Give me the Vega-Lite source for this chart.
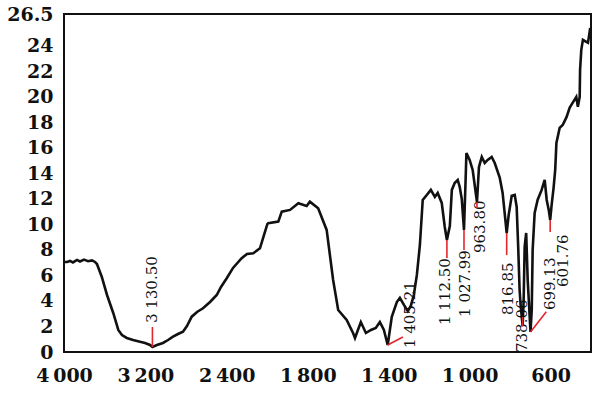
{
  "$schema": "https://vega.github.io/schema/vega-lite/v6.json",
  "width": 527,
  "height": 338,
  "autosize": "none",
  "padding": {"left": 64, "top": 14, "right": 9, "bottom": 42},
  "background": "white",
  "config": {
    "view": {"stroke": "#111111", "strokeWidth": 2},
    "axis": {
      "grid": false,
      "domain": false,
      "ticks": false,
      "labelFont": "DejaVu Serif",
      "labelFontSize": 19,
      "labelFontWeight": "bold",
      "labelColor": "#111111",
      "title": null
    }
  },
  "datasets": {
    "spectrum": [
      {"wn": 4000, "v": 7.06}, {"wn": 3970, "v": 7.06}, {"wn": 3941, "v": 7.14}, {"wn": 3912, "v": 7.02},
      {"wn": 3872, "v": 7.22}, {"wn": 3843, "v": 7.1}, {"wn": 3803, "v": 7.24}, {"wn": 3764, "v": 7.12},
      {"wn": 3725, "v": 7.18}, {"wn": 3695, "v": 7.06}, {"wn": 3676, "v": 6.9}, {"wn": 3629, "v": 5.9},
      {"wn": 3577, "v": 4.47}, {"wn": 3515, "v": 3.04}, {"wn": 3466, "v": 1.73}, {"wn": 3430, "v": 1.33},
      {"wn": 3383, "v": 1.1}, {"wn": 3321, "v": 0.94}, {"wn": 3253, "v": 0.81}, {"wn": 3203, "v": 0.71},
      {"wn": 3154, "v": 0.55}, {"wn": 3130.5, "v": 0.39}, {"wn": 3086, "v": 0.55}, {"wn": 3027, "v": 0.71},
      {"wn": 2977, "v": 0.94}, {"wn": 2928, "v": 1.2}, {"wn": 2879, "v": 1.41}, {"wn": 2830, "v": 1.59},
      {"wn": 2791, "v": 2.04}, {"wn": 2744, "v": 2.77}, {"wn": 2692, "v": 3.14}, {"wn": 2633, "v": 3.43},
      {"wn": 2564, "v": 3.92}, {"wn": 2498, "v": 4.47}, {"wn": 2456, "v": 5.1}, {"wn": 2400, "v": 5.78},
      {"wn": 2338, "v": 6.59}, {"wn": 2253, "v": 7.35}, {"wn": 2201, "v": 7.69}, {"wn": 2139, "v": 7.74},
      {"wn": 2073, "v": 8.13}, {"wn": 2033, "v": 9.18}, {"wn": 2000, "v": 10.04}, {"wn": 1996, "v": 10.09},
      {"wn": 1946, "v": 10.22}, {"wn": 1929, "v": 11.0}, {"wn": 1888, "v": 11.14}, {"wn": 1847, "v": 11.66},
      {"wn": 1806, "v": 11.45}, {"wn": 1790, "v": 11.79}, {"wn": 1749, "v": 11.27}, {"wn": 1707, "v": 9.57},
      {"wn": 1675, "v": 5.65}, {"wn": 1650, "v": 3.29}, {"wn": 1608, "v": 2.51}, {"wn": 1576, "v": 1.47},
      {"wn": 1567, "v": 1.1}, {"wn": 1538, "v": 2.35}, {"wn": 1513, "v": 1.49}, {"wn": 1488, "v": 1.73},
      {"wn": 1464, "v": 1.88}, {"wn": 1444, "v": 2.35}, {"wn": 1424, "v": 1.73}, {"wn": 1405.21, "v": 0.55},
      {"wn": 1385, "v": 2.75}, {"wn": 1360, "v": 3.92}, {"wn": 1345, "v": 4.24}, {"wn": 1325, "v": 3.69},
      {"wn": 1306, "v": 3.22}, {"wn": 1291, "v": 3.61}, {"wn": 1276, "v": 4.47}, {"wn": 1261, "v": 6.04},
      {"wn": 1246, "v": 8.39}, {"wn": 1232, "v": 11.92}, {"wn": 1212, "v": 12.31}, {"wn": 1192, "v": 12.71},
      {"wn": 1172, "v": 12.16}, {"wn": 1158, "v": 12.47}, {"wn": 1138, "v": 11.69}, {"wn": 1123, "v": 9.8},
      {"wn": 1112.5, "v": 8.78}, {"wn": 1098, "v": 9.88}, {"wn": 1088, "v": 12.71}, {"wn": 1074, "v": 13.25},
      {"wn": 1059, "v": 13.49}, {"wn": 1049, "v": 12.94}, {"wn": 1039, "v": 12.0}, {"wn": 1027.99, "v": 9.57},
      {"wn": 1020, "v": 13.5}, {"wn": 1016, "v": 15.6}, {"wn": 1000, "v": 15.06}, {"wn": 985, "v": 14.27},
      {"wn": 963.8, "v": 11.76}, {"wn": 954, "v": 14.5}, {"wn": 940, "v": 15.29}, {"wn": 925.5, "v": 14.82},
      {"wn": 911, "v": 15.06}, {"wn": 891, "v": 15.29}, {"wn": 876, "v": 14.82}, {"wn": 851, "v": 13.65},
      {"wn": 837, "v": 12.47}, {"wn": 816.85, "v": 9.33}, {"wn": 807, "v": 10.75}, {"wn": 792, "v": 12.24},
      {"wn": 777, "v": 12.31}, {"wn": 767.5, "v": 11.37}, {"wn": 760, "v": 8.24}, {"wn": 753, "v": 4.86},
      {"wn": 748, "v": 3.69}, {"wn": 738.06, "v": 2.04}, {"wn": 733, "v": 4.08}, {"wn": 728, "v": 8.24},
      {"wn": 720.5, "v": 9.33}, {"wn": 713, "v": 5.65}, {"wn": 699.13, "v": 1.57}, {"wn": 693, "v": 3.29},
      {"wn": 688.5, "v": 8.0}, {"wn": 678.6, "v": 10.9}, {"wn": 664, "v": 11.92}, {"wn": 644, "v": 12.71},
      {"wn": 629, "v": 13.49}, {"wn": 619, "v": 11.92}, {"wn": 609, "v": 11.14}, {"wn": 601.76, "v": 10.35},
      {"wn": 594.6, "v": 11.53}, {"wn": 585, "v": 12.86}, {"wn": 577, "v": 14.27}, {"wn": 571, "v": 16.39},
      {"wn": 555, "v": 17.57}, {"wn": 540, "v": 17.8}, {"wn": 520.6, "v": 18.43}, {"wn": 505.7, "v": 19.14},
      {"wn": 491, "v": 19.53}, {"wn": 472.7, "v": 20.0}, {"wn": 465, "v": 19.22}, {"wn": 456, "v": 20.0},
      {"wn": 454, "v": 22.12}, {"wn": 448, "v": 23.69}, {"wn": 440, "v": 24.47}, {"wn": 423, "v": 24.31},
      {"wn": 415, "v": 24.24}, {"wn": 409, "v": 24.86}, {"wn": 404, "v": 25.4}
    ],
    "rules": [
      {"wn": 3130.5, "v": 0.39, "wn2": 3130.5, "v2": 1.96},
      {"wn": 1405.21, "v": 0.55, "wn2": 1330, "v2": 1.18},
      {"wn": 1112.5, "v": 8.78, "wn2": 1112.5, "v2": 7.37},
      {"wn": 1027.99, "v": 9.57, "wn2": 1027.99, "v2": 8.0},
      {"wn": 963.8, "v": 11.76, "wn2": 963.8, "v2": 11.29},
      {"wn": 816.85, "v": 9.33, "wn2": 816.85, "v2": 7.6},
      {"wn": 738.06, "v": 2.75, "wn2": 738.06, "v2": 2.0},
      {"wn": 699.13, "v": 1.57, "wn2": 621, "v2": 3.16},
      {"wn": 601.76, "v": 10.35, "wn2": 601.76, "v2": 9.41}
    ],
    "labels": [
      {"wn": 3130.5, "v": 2.27, "label": "3 130.50"},
      {"wn": 1296, "v": 0.31, "label": "1 405.21"},
      {"wn": 1123, "v": 2.12, "label": "1 112.50"},
      {"wn": 1024, "v": 2.75, "label": "1 027.99"},
      {"wn": 950, "v": 7.76, "label": "963.80"},
      {"wn": 812, "v": 2.9, "label": "816.85"},
      {"wn": 743, "v": 0.0, "label": "738.06"},
      {"wn": 604.5, "v": 3.29, "label": "699.13"},
      {"wn": 540, "v": 5.1, "label": "601.76"}
    ],
    "xticks": [{"wn": 3200}, {"wn": 2400}, {"wn": 1800}, {"wn": 1400}, {"wn": 1000}, {"wn": 600}],
    "yticks": [{"v": 2}, {"v": 4}, {"v": 6}, {"v": 8}, {"v": 10}, {"v": 12}, {"v": 14}, {"v": 16}, {"v": 18}, {"v": 20}, {"v": 22}, {"v": 24}]
  },
  "encoding": {
    "x": {
      "field": "wn",
      "type": "quantitative",
      "scale": {"domain": [4000, 2000, 400], "range": [0, 203.4, 527], "nice": false, "zero": false},
      "axis": {
        "values": [4000, 3200, 2400, 1800, 1400, 1000, 600],
        "labelExpr": "replace(format(datum.value, ','), ',', '\u2009')",
        "labelPadding": 14,
        "labelFlush": false
      }
    },
    "y": {
      "field": "v",
      "type": "quantitative",
      "scale": {"domain": [0, 26.5], "nice": false, "zero": false},
      "axis": {
        "values": [0, 2, 4, 6, 8, 10, 12, 14, 16, 18, 20, 22, 24, 26.5],
        "labelExpr": "'' + datum.value",
        "labelPadding": 11,
        "labelFlush": false
      }
    }
  },
  "layer": [
    {
      "data": {"name": "labels"},
      "mark": {"type": "text", "angle": 270, "align": "left", "baseline": "middle", "font": "DejaVu Serif", "fontSize": 15, "color": "#111111"},
      "encoding": {"text": {"field": "label", "type": "nominal"}}
    },
    {
      "data": {"name": "spectrum"},
      "mark": {"type": "line", "color": "#111111", "strokeWidth": 2.6, "strokeJoin": "miter"},
      "encoding": {}
    },
    {
      "data": {"name": "rules"},
      "mark": {"type": "rule", "color": "#e3262e", "strokeWidth": 1.6},
      "encoding": {
        "x2": {"field": "wn2"},
        "y2": {"field": "v2"}
      }
    },
    {
      "data": {"name": "xticks"},
      "mark": {"type": "tick", "orient": "vertical", "size": 7, "thickness": 2.5, "color": "#111111", "opacity": 1, "yOffset": -3.5},
      "encoding": {"y": {"datum": 0}}
    },
    {
      "data": {"name": "yticks"},
      "mark": {"type": "tick", "orient": "horizontal", "size": 7, "thickness": 2.5, "color": "#111111", "opacity": 1, "xOffset": 3.5},
      "encoding": {"x": {"datum": 4000}}
    }
  ]
}
